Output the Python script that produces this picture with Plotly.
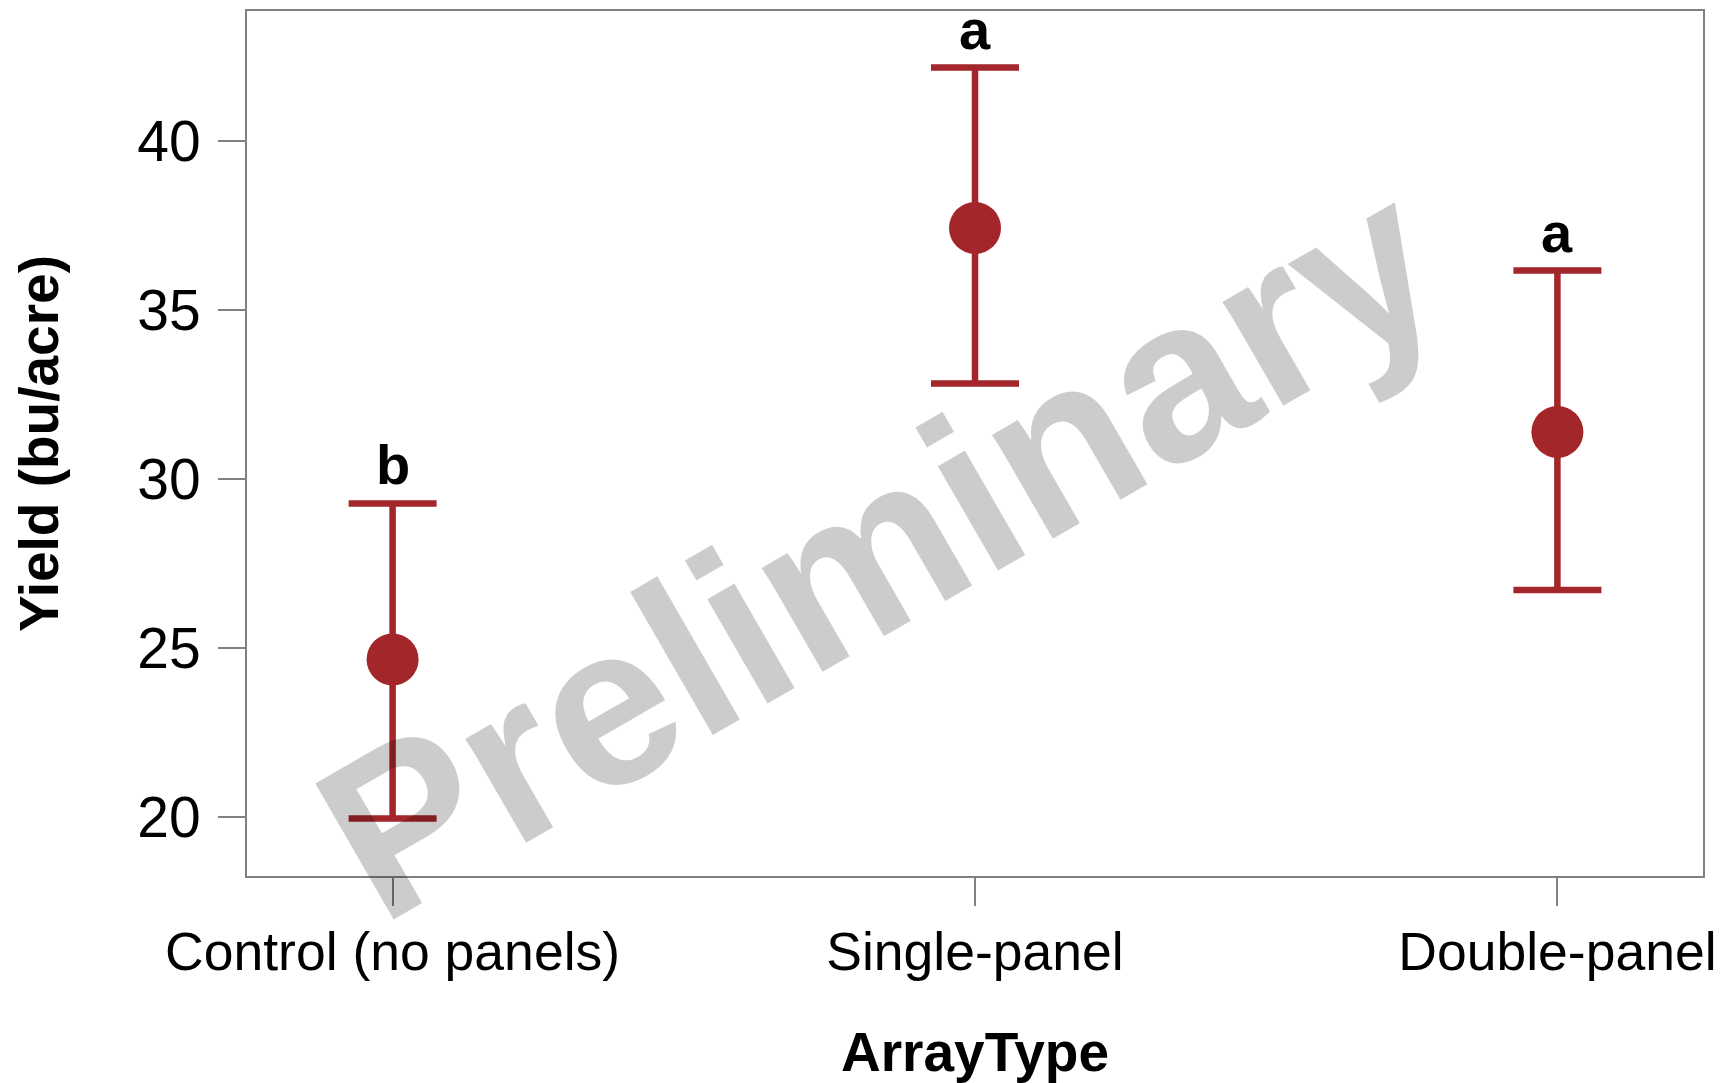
import plotly.graph_objects as go

# Data
categories = ["Control (no panels)", "Single-panel", "Double-panel"]
means = [24.67, 37.42, 31.39]
upper = [29.28, 42.16, 36.16]
lower = [19.97, 32.82, 26.72]
letters = ["b", "a", "a"]
y_ticks = [20, 25, 30, 35, 40]

RED = "#A3262A"
FONT = "Liberation Sans, Arial, Helvetica, sans-serif"
AX = "#808080"

err_plus = [u - m for u, m in zip(upper, means)]
err_minus = [m - l for m, l in zip(means, lower)]

fig = go.Figure()
fig.add_trace(go.Scatter(
    x=categories, y=means, mode="markers",
    marker=dict(size=52, color=RED, line=dict(width=0)),
    error_y=dict(type="data", symmetric=False, array=err_plus, arrayminus=err_minus,
                 color=RED, thickness=6.5, width=44),
    showlegend=False, hoverinfo="skip",
))

for c, u, t in zip(categories, upper, letters):
    fig.add_annotation(x=c, y=u, text="<b>%s</b>" % t, showarrow=False,
                       yanchor="bottom", yshift=5,
                       font=dict(family=FONT, size=56, color="black"))

fig.add_annotation(xref="paper", yref="paper", x=0.434, y=0.379,
                   text="<b>Preliminary</b>", showarrow=False, textangle=-30,
                   font=dict(family=FONT, size=228, color="rgba(0,0,0,0.2)"))

# the page body adds an 8px offset, so the figure is 8px smaller and margins are shifted
fig.update_layout(
    width=1715, height=1075,
    margin=dict(l=239, r=20, t=3, b=207, autoexpand=False),
    paper_bgcolor="white", plot_bgcolor="white",
    font=dict(family=FONT, color="black"),
    xaxis=dict(
        type="category", range=[-0.25, 2.25], automargin=False,
        showline=True, mirror=True, linecolor=AX, linewidth=2,
        ticks="outside", ticklen=28, tickcolor=AX, tickwidth=2,
        showgrid=False, zeroline=False,
        tickfont=dict(family=FONT, size=53.5, color="black"),
        ticklabelstandoff=0,
        title=dict(text="<b>ArrayType</b>", font=dict(family=FONT, size=55, color="black"), standoff=55),
    ),
    yaxis=dict(
        range=[18.27, 43.83], tickvals=y_ticks, automargin=False,
        showline=True, mirror=True, linecolor=AX, linewidth=2,
        ticks="outside", ticklen=27, tickcolor=AX, tickwidth=2,
        showgrid=False, zeroline=False,
        tickfont=dict(family=FONT, size=57, color="black"),
        ticklabelstandoff=6,
        title=dict(text="<b>Yield (bu/acre)</b>", font=dict(family=FONT, size=55, color="black"), standoff=65),
    ),
)

fig.write_html("out.html")
